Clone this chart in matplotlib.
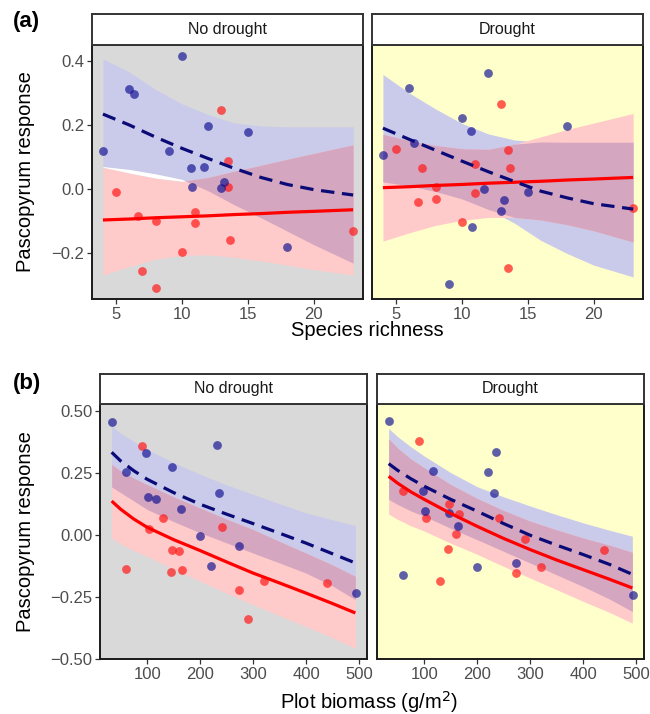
import matplotlib
matplotlib.use("Agg")
import matplotlib.pyplot as plt
import numpy as np

plt.rcParams['font.family'] = ['Liberation Sans', 'DejaVu Sans']

W, H = 650, 714

# ---- (a) species richness: points ----
rich_blue_x = [4, 6, 6.33, 10, 9, 12, 15, 10.67, 11.67, 10.75, 13.17, 13, 18]
rich_blue_nd = [0.118, 0.313, 0.296, 0.416, 0.120, 0.196, 0.177, 0.065, 0.069, 0.006, 0.021, 0.002, -0.183]
rich_blue_d = [0.106, 0.317, 0.143, 0.223, -0.297, 0.363, -0.010, 0.181, 0.001, -0.119, -0.035, -0.068, 0.196]
rich_red_x = [5, 6.67, 7, 8, 8, 10, 11, 11, 13, 13.5, 13.5, 13.67, 23]
rich_red_nd = [-0.008, -0.083, -0.258, -0.100, -0.309, -0.197, -0.071, -0.105, 0.248, 0.086, 0.006, -0.159, -0.130]
rich_red_d = [0.124, -0.041, 0.067, 0.005, -0.031, -0.104, 0.079, -0.014, 0.267, 0.121, -0.246, 0.066, -0.060]

# ---- (a) fitted curves and 95% bands ----
rich_grid = [4, 6, 8, 10, 12, 14, 16, 18, 20, 23]
rich_nd_blue_fit = [0.234, 0.200, 0.162, 0.127, 0.095, 0.064, 0.036, 0.014, -0.002, -0.019]
rich_nd_blue_hi = [0.406, 0.366, 0.311, 0.266, 0.232, 0.206, 0.197, 0.194, 0.194, 0.194]
rich_nd_blue_lo = [0.070, 0.061, 0.047, 0.030, -0.006, -0.050, -0.090, -0.132, -0.174, -0.232]
rich_nd_red_fit = [-0.097, -0.094, -0.090, -0.087, -0.084, -0.080, -0.077, -0.073, -0.070, -0.065]
rich_nd_red_hi = [0.068, 0.050, 0.034, 0.024, 0.036, 0.056, 0.074, 0.093, 0.111, 0.138]
rich_nd_red_lo = [-0.269, -0.243, -0.219, -0.208, -0.206, -0.214, -0.225, -0.238, -0.252, -0.269]
rich_d_blue_fit = [0.190, 0.155, 0.121, 0.087, 0.054, 0.023, -0.007, -0.028, -0.046, -0.063]
rich_d_blue_hi = [0.358, 0.300, 0.250, 0.205, 0.172, 0.153, 0.147, 0.146, 0.146, 0.146]
rich_d_blue_lo = [0.022, 0.010, -0.008, -0.031, -0.064, -0.107, -0.161, -0.202, -0.238, -0.275]
rich_d_red_fit = [0.004, 0.007, 0.011, 0.014, 0.018, 0.021, 0.024, 0.028, 0.031, 0.036]
rich_d_red_hi = [0.171, 0.151, 0.136, 0.126, 0.124, 0.140, 0.163, 0.186, 0.206, 0.236]
rich_d_red_lo = [-0.163, -0.137, -0.114, -0.098, -0.089, -0.089, -0.097, -0.112, -0.131, -0.166]

# ---- (b) plot biomass: points ----
bio_blue_x = [33, 98, 61, 146, 231, 101, 117, 164, 235, 199, 274, 220, 494]
bio_blue_nd = [0.458, 0.332, 0.257, 0.277, 0.365, 0.155, 0.145, 0.105, 0.169, -0.004, -0.045, -0.124, -0.232]
bio_blue_d = [0.461, 0.180, -0.161, 0.089, 0.172, 0.097, 0.261, 0.039, 0.336, -0.130, -0.114, 0.254, -0.243]
bio_red_x = [91, 103, 130, 60, 146, 160, 145, 166, 241, 321, 274, 290, 439]
bio_red_nd = [0.362, 0.027, 0.068, -0.136, -0.061, -0.062, -0.147, -0.140, 0.034, -0.184, -0.223, -0.338, -0.192]
bio_red_d = [0.381, 0.068, -0.184, 0.178, 0.127, 0.005, -0.054, 0.084, 0.068, -0.127, -0.154, -0.015, -0.061]

# ---- (b) fitted curves and 95% bands ----
bio_grid = [33, 50, 75, 100, 150, 200, 250, 300, 350, 400, 450, 493]
bio_nd_blue_fit = [0.335, 0.300, 0.260, 0.226, 0.172, 0.125, 0.085, 0.047, 0.008, -0.032, -0.075, -0.112]
bio_nd_blue_hi = [0.440, 0.412, 0.378, 0.347, 0.293, 0.246, 0.203, 0.165, 0.127, 0.090, 0.062, 0.039]
bio_nd_blue_lo = [0.195, 0.172, 0.138, 0.104, 0.055, 0.010, -0.031, -0.072, -0.112, -0.153, -0.205, -0.260]
bio_nd_red_fit = [0.138, 0.105, 0.065, 0.032, -0.018, -0.062, -0.108, -0.153, -0.193, -0.234, -0.276, -0.314]
bio_nd_red_hi = [0.286, 0.260, 0.230, 0.205, 0.155, 0.110, 0.065, 0.023, -0.025, -0.072, -0.120, -0.166]
bio_nd_red_lo = [-0.011, -0.035, -0.062, -0.085, -0.137, -0.186, -0.234, -0.281, -0.325, -0.369, -0.415, -0.457]
bio_d_blue_fit = [0.289, 0.262, 0.228, 0.198, 0.145, 0.097, 0.047, 0.000, -0.040, -0.078, -0.118, -0.158]
bio_d_blue_hi = [0.431, 0.398, 0.357, 0.320, 0.253, 0.196, 0.155, 0.118, 0.083, 0.050, 0.020, -0.004]
bio_d_blue_lo = [0.145, 0.124, 0.098, 0.077, 0.028, -0.018, -0.065, -0.112, -0.160, -0.207, -0.258, -0.308]
bio_d_red_fit = [0.238, 0.210, 0.175, 0.145, 0.088, 0.036, -0.013, -0.058, -0.100, -0.139, -0.178, -0.213]
bio_d_red_hi = [0.390, 0.352, 0.308, 0.273, 0.205, 0.149, 0.100, 0.057, 0.022, -0.011, -0.040, -0.069]
bio_d_red_lo = [0.085, 0.064, 0.038, 0.017, -0.032, -0.077, -0.126, -0.173, -0.220, -0.267, -0.312, -0.355]

facet_labels = ['No drought', 'Drought']
rich_ticks = [5, 10, 15, 20]
rich_yticks = [-0.2, 0.0, 0.2, 0.4]
bio_ticks = [100, 200, 300, 400, 500]
bio_yticks = [-0.50, -0.25, 0.00, 0.25, 0.50]

BG = {'No drought': '#d9d9d9', 'Drought': '#ffffcc'}
BLUE_BAND = '#cacaea'
RED_BAND = '#ffcaca'
MIX_BAND = '#d4a6bf'


def px_axes(fig, x0, y0, x1, y1):
    return fig.add_axes([x0 / W, 1 - y1 / H, (x1 - x0) / W, (y1 - y0) / H])


def fmt(v, nd):
    return f"{v:.{nd}f}".replace('-', '\u2212')


def draw_panel(ax, grid, blue, red, pts, facet):
    g = np.array(grid)
    b_fit, b_hi, b_lo = map(np.array, blue)
    r_fit, r_hi, r_lo = map(np.array, red)
    ax.set_facecolor(BG[facet])
    ax.fill_between(g, b_lo, b_hi, color=BLUE_BAND, lw=0, zorder=1)
    ax.fill_between(g, r_lo, r_hi, color=RED_BAND, lw=0, zorder=1)
    top = np.minimum(b_hi, r_hi)
    bot = np.maximum(b_lo, r_lo)
    ax.fill_between(g, bot, top, where=top > bot, interpolate=True,
                    color=MIX_BAND, lw=0, zorder=2)
    # thin gap between the bands shows as white in the original
    ax.fill_between(g, r_hi, b_lo, where=b_lo > r_hi, interpolate=True,
                    color='white', lw=0, zorder=2)
    bx, by, rx, ry = pts
    ax.scatter(rx, ry, s=40, color='#ff1a1a', alpha=0.7, lw=0, zorder=3)
    ax.scatter(bx, by, s=40, color='#0a0a90', alpha=0.65, lw=0, zorder=3)
    ax.plot(g, r_fit, color='#ff0000', lw=2.3, solid_capstyle='butt', zorder=4)
    ax.plot(g, b_fit, color='#0b0b78', lw=2.3, dashes=(4.2, 2.4),
            dash_capstyle='butt', zorder=5)
    for s in ax.spines.values():
        s.set_color('#1a1a1a')
        s.set_linewidth(1.4)
    ax.tick_params(length=3.5, width=0.9, color='#333333', labelcolor='#4d4d4d',
                   labelsize=12, pad=2)


def draw_strip(fig, x0, y0, x1, y1, label):
    sax = px_axes(fig, x0, y0, x1, y1)
    sax.set_facecolor('white')
    sax.set_xticks([])
    sax.set_yticks([])
    for s in sax.spines.values():
        s.set_color('#333333')
        s.set_linewidth(1.4)
    sax.text(0.5, 0.5, label, ha='center', va='center', fontsize=11.5,
             color='#1a1a1a', transform=sax.transAxes)


fig = plt.figure(figsize=(W / 100, H / 100), dpi=100)

rich_sets = {
    'No drought': ((rich_nd_blue_fit, rich_nd_blue_hi, rich_nd_blue_lo),
                   (rich_nd_red_fit, rich_nd_red_hi, rich_nd_red_lo),
                   (rich_blue_x, rich_blue_nd, rich_red_x, rich_red_nd)),
    'Drought': ((rich_d_blue_fit, rich_d_blue_hi, rich_d_blue_lo),
                (rich_d_red_fit, rich_d_red_hi, rich_d_red_lo),
                (rich_blue_x, rich_blue_d, rich_red_x, rich_red_d)),
}
bio_sets = {
    'No drought': ((bio_nd_blue_fit, bio_nd_blue_hi, bio_nd_blue_lo),
                   (bio_nd_red_fit, bio_nd_red_hi, bio_nd_red_lo),
                   (bio_blue_x, bio_blue_nd, bio_red_x, bio_red_nd)),
    'Drought': ((bio_d_blue_fit, bio_d_blue_hi, bio_d_blue_lo),
                (bio_d_red_fit, bio_d_red_hi, bio_d_red_lo),
                (bio_blue_x, bio_blue_d, bio_red_x, bio_red_d)),
}

# panel (a)
a_cols = [(92, 363), (372, 643)]
for (x0, x1), facet in zip(a_cols, facet_labels):
    ax = px_axes(fig, x0, 45, x1, 299)
    blue, red, pts = rich_sets[facet]
    draw_panel(ax, rich_grid, blue, red, pts, facet)
    ax.set_xlim(3.17, 23.75)
    ax.set_ylim(-0.344, 0.45)
    ax.set_xticks(rich_ticks)
    ax.set_xticklabels([str(t) for t in rich_ticks])
    if facet == 'No drought':
        ax.set_yticks(rich_yticks)
        ax.set_yticklabels([fmt(t, 1) for t in rich_yticks])
    else:
        ax.set_yticks([])
    draw_strip(fig, x0, 14, x1, 45, facet)

# panel (b)
b_cols = [(100, 367), (377, 644)]
for (x0, x1), facet in zip(b_cols, facet_labels):
    ax = px_axes(fig, x0, 404, x1, 659)
    blue, red, pts = bio_sets[facet]
    draw_panel(ax, bio_grid, blue, red, pts, facet)
    ax.set_xlim(11, 515)
    ax.set_ylim(-0.50, 0.53)
    ax.set_xticks(bio_ticks)
    ax.set_xticklabels([str(t) for t in bio_ticks])
    if facet == 'No drought':
        ax.set_yticks(bio_yticks)
        ax.set_yticklabels([fmt(t, 2) for t in bio_yticks])
    else:
        ax.set_yticks([])
    draw_strip(fig, x0, 374, x1, 404, facet)

fig.text(13 / W, 1 - 22 / H, '(a)', fontsize=16, fontweight='bold', va='center', ha='left')
fig.text(13 / W, 1 - 383 / H, '(b)', fontsize=16, fontweight='bold', va='center', ha='left')
fig.text(26 / W, 1 - 172 / H, 'Pascopyrum response', rotation=90, fontsize=14.5,
         ha='center', va='center')
fig.text(26 / W, 1 - 532 / H, 'Pascopyrum response', rotation=90, fontsize=14.5,
         ha='center', va='center')
fig.text(367 / W, 1 - 330 / H, 'Species richness', fontsize=14.5, ha='center', va='center')
fig.text(369 / W, 1 - 702 / H, 'Plot biomass (g/m$^2$)', fontsize=14.5, ha='center', va='center')

fig.savefig('out.png', dpi=100)
